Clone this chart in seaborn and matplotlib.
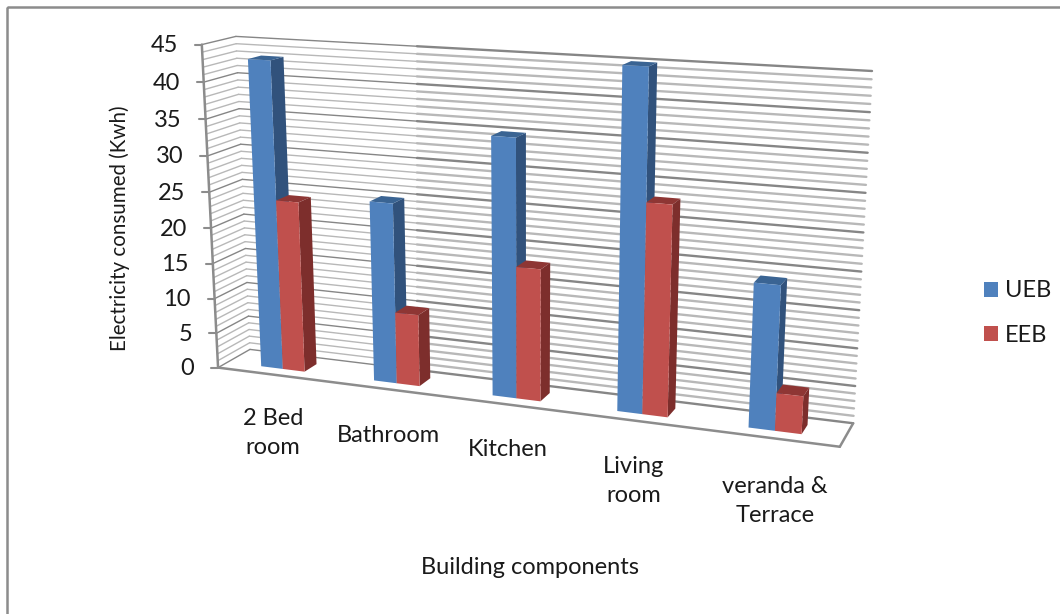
import numpy as np
import pandas as pd
import matplotlib
matplotlib.use('Agg')
import matplotlib.pyplot as plt
import seaborn as sns
from matplotlib.patches import Polygon, Rectangle
from matplotlib.transforms import Transform

# values
components = ['2 Bed\nroom', 'Bathroom', 'Kitchen', 'Living\nroom', 'veranda &\nTerrace']
ueb = [43, 25, 35, 45, 19]
eeb = [24, 10, 18, 28, 5]
series = ['UEB', 'EEB']
y_ticks = list(range(0, 50, 5))
y_max = 45

df = pd.DataFrame({
    'Component': components * 2,
    'Building': ['UEB'] * 5 + ['EEB'] * 5,
    'Value': ueb + eeb,
})

# box corners (u, depth, v) -> pixel, used to fit the camera
box_uvw = [(0, 0, 0), (0, 0, 1), (0, 1, 0), (0, 1, 1), (1, 1, 1), (1, 1, 0), (1, 0, 0)]
box_px = [(218, 367), (201.7, 45), (250, 350), (236, 36), (872, 71), (853, 423), (840, 447)]

rows = []
for (u, d, v), (px, py) in zip(box_uvw, box_px):
    rows.append([u, d, v, 1, 0, 0, 0, 0, -px * u, -px * d, -px * v, -px])
    rows.append([0, 0, 0, 0, u, d, v, 1, -py * u, -py * d, -py * v, -py])
camera = np.linalg.svd(np.array(rows, dtype=float))[2][-1].reshape(3, 4)


def project(x, depth, y):
    # x in category units, y in kWh
    p = camera @ np.array([(x + 0.5) / 5, depth, y / y_max, 1.0])
    return p[0] / p[2], p[1] / p[2]


class FrontPlane(Transform):
    input_dims = 2
    output_dims = 2

    def __init__(self, plane):
        super().__init__()
        self.plane = plane

    def transform_non_affine(self, values):
        return np.array([project(x, self.plane, y) for x, y in values])


sns.set_theme(style='white')
plt.rcParams['font.family'] = ['Lato', 'DejaVu Sans']
text_color = '#1a1a1a'

fig = plt.figure(figsize=(10.6, 6.14), dpi=100)
ax = fig.add_axes([0, 0, 1, 1])

colors = {'UEB': '#4F81BD', 'EEB': '#C0504D'}
side_colors = {'UEB': '#31527C', 'EEB': '#7D2E2C'}
top_colors = {'UEB': '#3A6493', 'EEB': '#8E3634'}

sns.barplot(data=df, x='Component', y='Value', hue='Building', hue_order=series,
            palette=colors, saturation=1, width=0.39, gap=0, linewidth=0, ax=ax, legend=False)

ax.set_xlim(0, 1060)
ax.set_ylim(614, 0)
ax.set_axis_off()

# outer chart frame
ax.add_patch(Rectangle((7, 7), 1100, 700, fill=False, ec='#8c8c8c', lw=1.8, zorder=1))

# gridlines on the two walls
split_x = 417
for val in range(0, y_max + 1):
    major = val % 5 == 0
    color = '#868686' if major else '#b8b8b8'
    x0, y0 = project(-0.5, 0, val)
    x1, y1 = project(-0.5, 1, val)
    x2, y2 = project(4.5, 1, val)
    ax.plot([x0, x1], [y0, y1], color=color, lw=1.0, zorder=2)
    ys = y1 + (y2 - y1) * (split_x - x1) / (x2 - x1)
    ax.plot([x1, split_x], [y1, ys], color=color, lw=1.0, zorder=2)
    ax.plot([split_x, x2], [ys, y2], color=color, lw=1.7, zorder=2)

# floor edge and value axis
for a, b in [((-0.5, 0, 0), (4.5, 0, 0)), ((4.5, 0, 0), (4.5, 1, 0)), ((-0.5, 0, 0), (-0.5, 0, y_max))]:
    pa, pb = project(*a), project(*b)
    ax.plot([pa[0], pb[0]], [pa[1], pb[1]], color='#8c8c8c', lw=1.8, zorder=2, solid_capstyle='round')

for val in y_ticks:
    px, py = project(-0.5, 0, val)
    ax.plot([px - 7, px], [py, py], color='#8c8c8c', lw=1.5, zorder=2)
    ax.text(px - 24, py + 1, str(val), ha='right', va='center', fontsize=17, color=text_color)

# seaborn's bars become the front faces, sides and tops are added from them
d_front, d_back = 0.3, 0.7
order = 3
for name, container in zip(series, ax.containers):
    for bar in container:
        x0, x1, h = bar.get_x(), bar.get_x() + bar.get_width(), bar.get_height()
        side = [project(x1, d_front, 0), project(x1, d_back, 0), project(x1, d_back, h), project(x1, d_front, h)]
        top = [project(x0, d_front, h), project(x1, d_front, h), project(x1, d_back, h), project(x0, d_back, h)]
        # red bars have to sit over the blue side of the same category
        z = order + (0 if name == 'UEB' else 1)
        ax.add_patch(Polygon(side, closed=True, fc=side_colors[name], ec='none', zorder=z))
        ax.add_patch(Polygon(top, closed=True, fc=top_colors[name], ec='none', zorder=z))
        bar.set_transform(FrontPlane(d_front) + ax.transData)
        bar.set_zorder(z + 0.5)
        bar.set_clip_on(False)

# category labels
label_pos = [(273, 433), (388, 435), (508, 449), (634, 481), (775, 501)]
for text, (px, py) in zip(components, label_pos):
    ax.text(px, py, text, ha='center', va='center', fontsize=17, color=text_color, linespacing=1.5)

ax.text(120, 228, 'Electricity consumed (Kwh)', rotation=90, ha='center', va='center',
        fontsize=14.8, color=text_color)
ax.text(530, 568, 'Building components', ha='center', va='center', fontsize=17, color=text_color)

# legend
handles = [Rectangle((0, 0), 1, 1, fc=colors[s], ec='none') for s in series]
ax.legend(handles, series, loc='center left', bbox_to_anchor=(0.908, 0.49), frameon=False,
          fontsize=17, handlelength=0.6, handleheight=0.6, handletextpad=0.28,
          labelspacing=1.0, labelcolor=text_color)

fig.savefig('out.png', dpi=100)
